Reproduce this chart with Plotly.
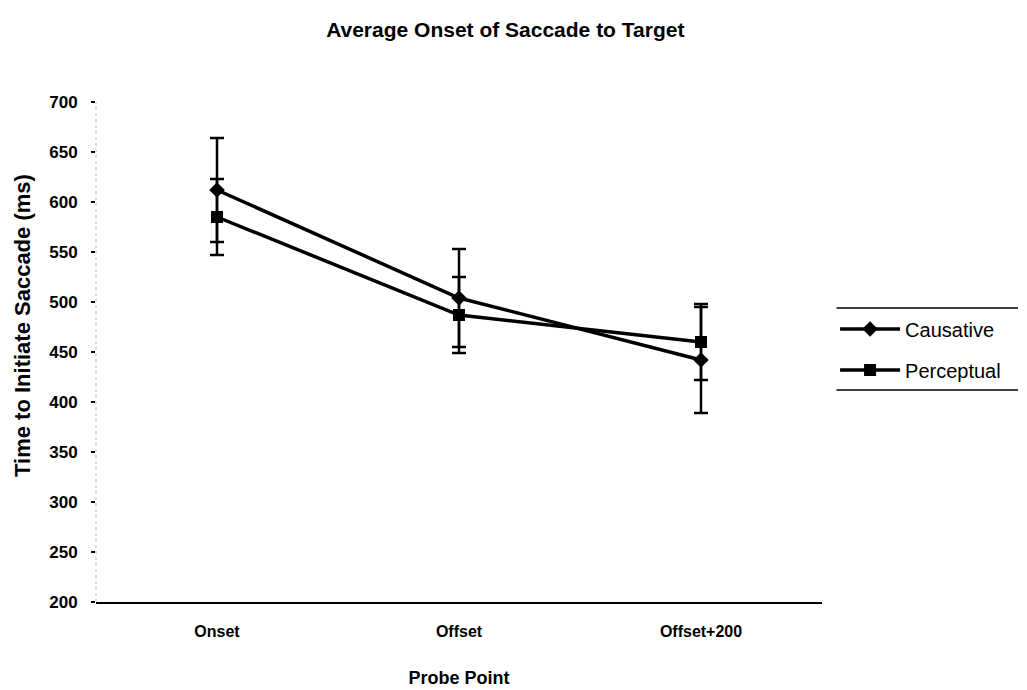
import plotly.graph_objects as go

categories = ["Onset", "Offset", "Offset+200"]
causative = [612, 504, 442]
causative_err = [52, 49, 53]
perceptual = [585, 487, 460]
perceptual_err = [38, 38, 38]
y_ticks = [200, 250, 300, 350, 400, 450, 500, 550, 600, 650, 700]

font_family = "Liberation Sans, Arial, sans-serif"

fig = go.Figure()
fig.add_trace(go.Scatter(
    x=categories, y=causative, name="Causative", mode="lines+markers",
    legendgroup="a",
    line=dict(color="black", width=3.5),
    marker=dict(symbol="diamond", size=12, color="black"),
    error_y=dict(type="data", array=causative_err, visible=True,
                 color="black", thickness=2.5, width=7),
))
fig.add_trace(go.Scatter(
    x=categories, y=perceptual, name="Perceptual", mode="lines+markers",
    legendgroup="b",
    line=dict(color="black", width=3.5),
    marker=dict(symbol="square", size=12, color="black"),
    error_y=dict(type="data", array=perceptual_err, visible=True,
                 color="black", thickness=2.5, width=7),
))

fig.update_layout(
    width=1027, height=690,
    paper_bgcolor="white", plot_bgcolor="white",
    margin=dict(l=96, r=205, t=102, b=88, autoexpand=False),
    font=dict(family=font_family, color="black"),
    title=dict(text="Average Onset of Saccade to Target",
               x=0.492, xanchor="center", y=0.957, yanchor="middle",
               font=dict(size=21, family=font_family, color="black", weight="bold")),
    showlegend=True,
    legend=dict(x=1.018, xanchor="left", y=0.585, yanchor="top",
                bgcolor="rgba(0,0,0,0)", borderwidth=0,
                itemwidth=60,
                tracegroupgap=12, traceorder="grouped",
                font=dict(size=20, family=font_family, color="black")),
    xaxis=dict(
        type="category", range=[-0.5, 2.5], automargin=False,
        showgrid=False, zeroline=False,
        showline=True, linecolor="black", linewidth=2,
        ticks="", tickfont=dict(size=16, family=font_family, weight="bold"),
        ticklabelstandoff=14,
        title=dict(text="Probe Point", font=dict(size=18, weight="bold"), standoff=32),
    ),
    yaxis=dict(
        range=[200, 700], tickvals=y_ticks, automargin=False,
        showgrid=False, zeroline=False, showline=False,
        ticks="outside", ticklen=4, tickwidth=2, tickcolor="black",
        tickfont=dict(size=17, family=font_family, weight="bold"),
        ticklabelstandoff=10,
    ),
    annotations=[
        dict(text="Time to Initiate Saccade (ms)", textangle=-90,
             xref="paper", yref="paper", x=-0.102, y=0.554,
             xanchor="center", yanchor="middle", showarrow=False,
             font=dict(size=22, family=font_family, color="black", weight="bold")),
    ],
    shapes=[
        dict(type="line", xref="paper", yref="paper", x0=0, x1=0, y0=0, y1=1,
             line=dict(color="#bbbbbb", width=1, dash="dot")),
        dict(type="line", xref="paper", yref="paper", x0=1.02, x1=1.27, y0=0.588, y1=0.588,
             line=dict(color="black", width=1.5)),
        dict(type="line", xref="paper", yref="paper", x0=1.02, x1=1.27, y0=0.424, y1=0.424,
             line=dict(color="black", width=1.5)),
    ],
)

fig.write_html("out.html")
